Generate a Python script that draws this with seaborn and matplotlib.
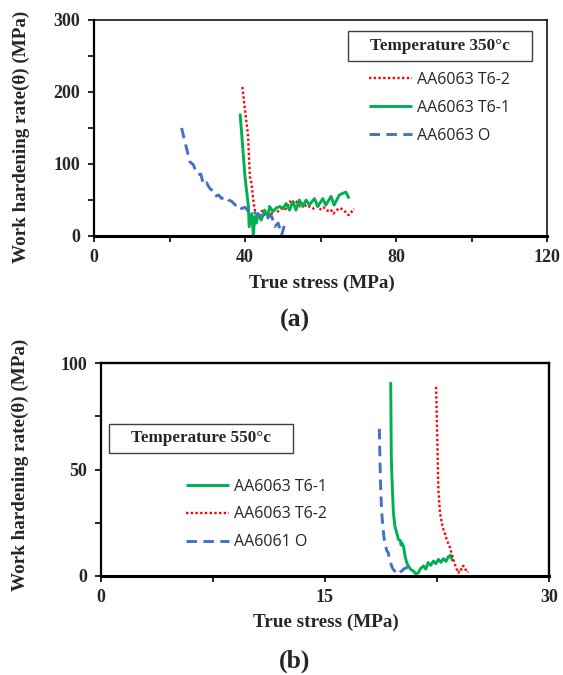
import matplotlib
matplotlib.use("Agg")
import matplotlib.pyplot as plt
from matplotlib.patches import Rectangle
from matplotlib.ticker import MultipleLocator
import seaborn as sns

# ---------------- data: panel (a) 350 °C ----------------
a_t62_x = [39.3, 40.0, 40.8, 41.3, 41.7, 42.2, 42.6, 43.2, 43.8, 44.5, 45.2, 46.0, 46.8, 47.5, 48.5,
           49.5, 50.5, 51.2, 51.9, 52.6, 53.4, 54.6, 55.5, 56.3, 57.2, 58.1, 59.0, 60.0, 60.8, 61.8,
           62.7, 63.4, 64.3, 65.2, 66.0, 66.7, 67.4, 68.3, 68.9]
a_t62_y = [207, 175, 140, 82, 74, 50, 36, 30, 27, 35, 27, 33, 28, 36, 33,
           38, 36, 41, 48, 44, 49, 41, 46, 40, 41, 38, 42, 37, 40, 35,
           37, 31, 36, 39, 36, 33, 29, 34, 38]

a_t61_x = [38.7, 40.0, 40.9, 41.1, 41.8, 42.2, 42.6, 43.0, 43.5, 44.3, 45.2, 46.1, 46.5, 47.4, 48.3,
           49.2, 50.0, 50.9, 51.8, 52.7, 53.5, 54.4, 55.3, 56.2, 57.0, 58.4, 59.3, 60.6, 61.4, 62.8,
           63.6, 65.0, 65.8, 66.7, 67.6]
a_t61_y = [170, 82, 41, 13, 31, 1, 27, 18, 31, 22, 36, 27, 41, 34, 39,
           41, 38, 45, 36, 48, 36, 50, 41, 50, 43, 52, 41, 52, 43, 55,
           43, 57, 59, 61, 52]

a_o_x = [23.2, 24.6, 25.4, 26.3, 27.0, 27.6, 28.3, 29.0, 29.8, 30.7, 31.4, 32.1, 33.0, 33.8, 34.6,
         35.6, 36.5, 37.4, 38.2, 39.1, 40.0, 40.9, 41.5, 42.2, 43.1, 44.0, 44.9, 45.7, 46.4, 47.1,
         47.9, 48.8, 49.7, 50.6, 51.0]
a_o_y = [150, 120, 103, 99, 90, 85, 86, 71, 74, 66, 63, 55, 57, 52, 55,
         50, 48, 43, 45, 38, 40, 34, 36, 34, 30, 29, 25, 22, 28, 27,
         13, 18, 1, 18, 20]

# ---------------- data: panel (b) 550 °C ----------------
b_t61_x = [19.40, 19.44, 19.47, 19.58, 19.68, 19.80, 19.92, 20.03, 20.10, 20.14, 20.25, 20.36, 20.47,
           20.58, 20.75, 20.92, 21.10, 21.25, 21.40, 21.60, 21.75, 21.90, 22.08, 22.26, 22.42, 22.60,
           22.76, 22.93, 23.10, 23.27, 23.40, 23.55]
b_t61_y = [91.0, 56.0, 48.4, 29.7, 23.4, 20.3, 17.1, 16.8, 14.5, 15.6, 14.1, 9.4, 6.3,
           4.7, 3.0, 2.3, 0.8, 1.6, 3.5, 4.7, 3.2, 6.3, 5.0, 7.0, 5.8, 7.8,
           6.4, 8.1, 6.9, 9.1, 9.7, 7.0]

b_t62_x = [22.44, 22.52, 22.59, 22.70, 22.82, 22.93, 23.05, 23.15, 23.27, 23.38, 23.50, 23.60, 23.72,
           23.83, 23.93, 24.05, 24.15, 24.26, 24.37, 24.48, 24.60]
b_t62_y = [88.8, 64.0, 40.6, 29.7, 25.0, 21.8, 19.5, 17.1, 15.0, 13.2, 10.0, 7.7, 5.0,
           3.0, 1.5, 3.5, 3.0, 4.8, 3.9, 1.8, 2.0]

b_o_x = [18.64, 18.68, 18.73, 18.80, 18.87, 18.95, 19.02, 19.13, 19.24, 19.30, 19.36, 19.47, 19.58,
         19.75, 19.91, 20.03, 20.14, 20.30, 20.47, 20.64, 20.81, 20.96]
b_o_y = [69.1, 55.0, 40.6, 30.0, 23.4, 18.0, 15.6, 12.0, 10.9, 8.5, 6.9, 4.5, 3.0,
         1.8, 0.7, 1.8, 2.3, 3.4, 3.9, 4.9, 5.4, 5.9]

legend_a = ["AA6063 T6-2", "AA6063 T6-1", "AA6063 O"]
legend_b = ["AA6063 T6-1", "AA6063 T6-2", "AA6061 O"]
title_a = "Temperature 350°c"
title_b = "Temperature 550°c"
xlabel = "True stress (MPa)"
ylabel = "Work hardening rate(θ) (MPa)"

RED = "#FF0000"
GREEN = "#00B050"
BLUE = "#4472C4"

sns.set_theme(style="ticks")
plt.rcParams["font.family"] = ["Liberation Serif", "DejaVu Serif"]

W, H = 563, 675
fig = plt.figure(figsize=(W / 100, H / 100), dpi=100)
fig.patch.set_facecolor("white")


def px_rect(l, t, r, b):
    return [l / W, 1 - b / H, (r - l) / W, (b - t) / H]


def style_axes(ax, xmax, xmaj, xmin, ymax, ymaj, ymin, thin_top):
    ax.set_xlim(0, xmax)
    ax.set_ylim(0, ymax)
    ax.xaxis.set_major_locator(MultipleLocator(xmaj))
    ax.xaxis.set_minor_locator(MultipleLocator(xmin))
    ax.yaxis.set_major_locator(MultipleLocator(ymaj))
    ax.yaxis.set_minor_locator(MultipleLocator(ymin))
    ax.tick_params(which="both", direction="out", length=4, width=1.2, color="black")
    ax.tick_params(axis="x", which="major", pad=5, labelsize=13)
    ax.tick_params(axis="y", which="major", pad=6, labelsize=13)
    for lab in ax.get_xticklabels() + ax.get_yticklabels():
        lab.set_fontweight("bold")
    for side in ["left", "bottom", "top", "right"]:
        ax.spines[side].set_visible(True)
        ax.spines[side].set_color("black")
    ax.spines["bottom"].set_linewidth(2.2)
    ax.spines["left"].set_linewidth(1.6)
    tw = 1.1 if thin_top else 1.7
    ax.spines["top"].set_linewidth(tw)
    ax.spines["right"].set_linewidth(tw)
    ax.set_facecolor("white")
    ax.grid(False)


def draw(ax, x, y, color, kind):
    sns.lineplot(x=x, y=y, ax=ax, sort=False, estimator=None, color=color,
                 linewidth=2.1 if kind != "dot" else 1.7)
    ln = ax.lines[-1]
    if kind == "dash":
        ln.set_dashes((3.6, 2.2))
    elif kind == "dot":
        ln.set_dashes((1, 1))
    ln.set_solid_capstyle("butt")
    return ln


def temp_box(l, t, r, b, text):
    fig.patches.append(Rectangle((l / W, 1 - b / H), (r - l) / W, (b - t) / H,
                                 transform=fig.transFigure, facecolor="white",
                                 edgecolor="#404040", linewidth=1.0))
    fig.text((l + r) / 2 / W, 1 - (t + b) / 2 / H, text, ha="center", va="center",
             fontsize=12.3, fontweight="bold")


LEG_PROP = {"family": ["Open Sans", "DejaVu Sans"], "size": 11.5}

# ---------------- panel (a) ----------------
ax1 = fig.add_axes(px_rect(94, 20, 547, 236))
l1 = draw(ax1, a_t62_x, a_t62_y, RED, "dot")
l2 = draw(ax1, a_t61_x, a_t61_y, GREEN, "solid")
l3 = draw(ax1, a_o_x, a_o_y, BLUE, "dash")
style_axes(ax1, 120, 40, 20, 300, 100, 50, thin_top=True)
ax1.set_xlabel(xlabel, fontsize=13.8, fontweight="bold", va="center")
ax1.set_ylabel(ylabel, fontsize=13.8, fontweight="bold", va="center")
ax1.xaxis.set_label_coords(0.503, -0.218)
ax1.yaxis.set_label_coords(-0.160, 0.46)
leg1 = ax1.legend([l1, l2, l3], legend_a, frameon=False, loc="center left",
                  bbox_to_anchor=(369 / W, 1 - 108 / H), bbox_transform=fig.transFigure,
                  borderpad=0, borderaxespad=0, handlelength=2.7, handletextpad=0.3,
                  labelspacing=0.75, prop=LEG_PROP)
temp_box(348, 31, 532, 61, title_a)

# ---------------- panel (b) ----------------
ax2 = fig.add_axes(px_rect(101, 363, 549, 576))
m1 = draw(ax2, b_t61_x, b_t61_y, GREEN, "solid")
m2 = draw(ax2, b_t62_x, b_t62_y, RED, "dot")
m3 = draw(ax2, b_o_x, b_o_y, BLUE, "dash")
style_axes(ax2, 30, 15, 7.5, 100, 50, 25, thin_top=False)
ax2.set_xlabel(xlabel, fontsize=13.8, fontweight="bold", va="center")
ax2.set_ylabel(ylabel, fontsize=13.8, fontweight="bold", va="center")
ax2.xaxis.set_label_coords(0.501, -0.217)
ax2.yaxis.set_label_coords(-0.181, 0.52)
leg2 = ax2.legend([m1, m2, m3], legend_b, frameon=False, loc="center left",
                  bbox_to_anchor=(186 / W, 1 - 514.5 / H), bbox_transform=fig.transFigure,
                  borderpad=0, borderaxespad=0, handlelength=2.7, handletextpad=0.3,
                  labelspacing=0.75, prop=LEG_PROP)
temp_box(109, 424, 293, 453, title_b)

fig.text(295 / W, 1 - 320 / H, "(a)", ha="center", va="center", fontsize=18.5, fontweight="bold")
fig.text(295 / W, 1 - 661 / H, "(b)", ha="center", va="center", fontsize=18.5, fontweight="bold")

fig.savefig("out.png", dpi=100, facecolor="white")
